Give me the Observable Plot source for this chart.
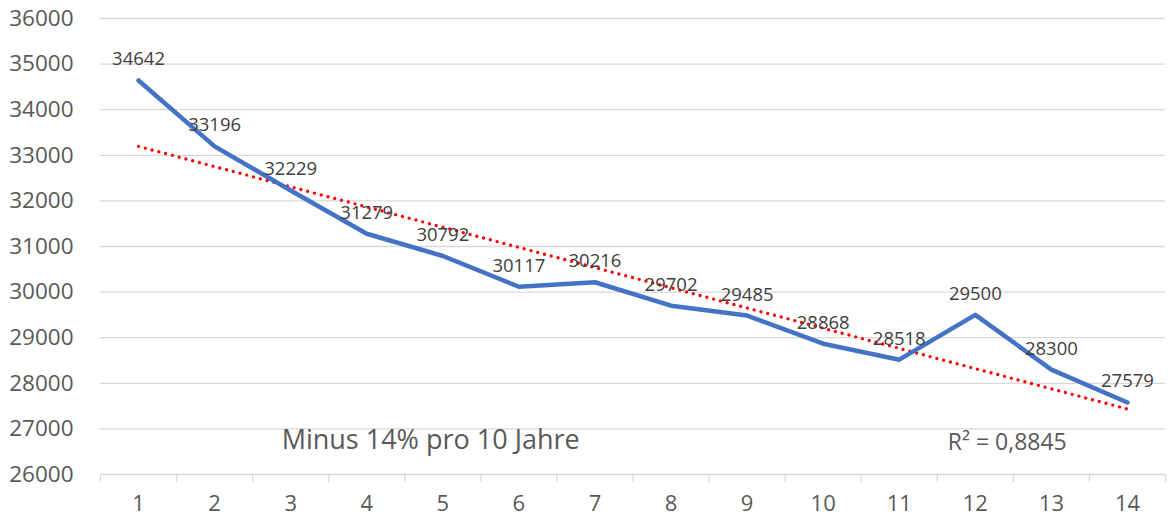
<!DOCTYPE html>
<html>
<head>
<meta charset="utf-8">
<script src="https://cdn.jsdelivr.net/npm/d3@7"></script>
<script src="https://cdn.jsdelivr.net/npm/@observablehq/plot@0.6"></script>
<style>
  html, body { margin: 0; padding: 0; background: #fff; }
  #chart { width: 1172px; height: 522px; }
</style>
</head>
<body>
<div id="chart"></div>
<script>
const categories = [1, 2, 3, 4, 5, 6, 7, 8, 9, 10, 11, 12, 13, 14];
const values = [34642, 33196, 32229, 31279, 30792, 30117, 30216, 29702, 29485, 28868, 28518, 29500, 28300, 27579];
const yTicks = [26000, 27000, 28000, 29000, 30000, 31000, 32000, 33000, 34000, 35000, 36000];
const annotationTexts = ["Minus 14% pro 10 Jahre", "R² = 0,8845"];
const annotationX = [4.84, 12.42];
const annotationY = [26746, 26700];
const annotationSizes = [27, 23];

const data = categories.map((c, i) => ({cat: c, value: values[i]}));
const bounds = d3.range(categories.length + 1).map(i => categories[0] - 0.5 + i);
const notes = annotationTexts.map((t, i) => ({text: t, x: annotationX[i], y: annotationY[i], size: annotationSizes[i]}));

const textColor = "#595959";
const font = "'Open Sans', 'Liberation Sans', sans-serif";

const chart = Plot.plot({
  width: 1172,
  height: 522,
  marginLeft: 100,
  marginRight: 7,
  marginTop: 18,
  marginBottom: 48,
  style: {fontFamily: font, background: "#fff", color: textColor, overflow: "visible"},
  x: {type: "linear", domain: [bounds[0], bounds[bounds.length - 1]]},
  y: {domain: [26000, 36000]},
  marks: [
    Plot.gridY(yTicks, {stroke: "#d9d9d9", strokeOpacity: 1, strokeWidth: 1.3}),
    Plot.axisX({ticks: bounds, tickFormat: () => "", tickSize: 8, stroke: "#d9d9d9", strokeOpacity: 1, strokeWidth: 1.3, label: null}),
    Plot.axisX({ticks: categories, tickFormat: d => String(d), tickSize: 0, tickPadding: 21, fontSize: 22, fill: textColor, label: null}),
    Plot.axisY({ticks: yTicks, tickFormat: d => String(d), tickSize: 0, tickPadding: 27, fontSize: 22.5, fill: textColor, label: null}),
    Plot.linearRegressionY(data, {x: "cat", y: "value", ci: 0, stroke: "#ff0000", strokeWidth: 3.4, strokeDasharray: "0 7", strokeLinecap: "round"}),
    Plot.line(data, {x: "cat", y: "value", stroke: "#4472C4", strokeWidth: 4.5, strokeLinejoin: "round", strokeLinecap: "round"}),
    Plot.text(data, {x: "cat", y: "value", text: d => String(d.value), dy: -21, fontSize: 18.5, fill: "#404040"}),
    Plot.text(notes, {x: "x", y: "y", text: "text", fontSize: d => d.size, fill: textColor})
  ]
});
document.getElementById("chart").appendChild(chart);
</script>
</body>
</html>
